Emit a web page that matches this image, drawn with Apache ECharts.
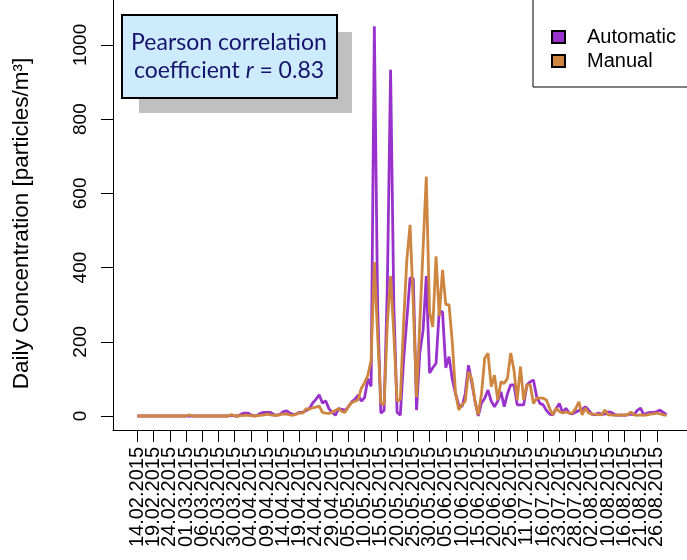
<!DOCTYPE html>
<html>
<head>
<meta charset="utf-8">
<title>Daily concentration</title>
<script src="https://cdn.jsdelivr.net/npm/echarts@6/dist/echarts.min.js"></script>
<style>
  html, body { margin: 0; padding: 0; background: #fff; }
  #chart { width: 687px; height: 560px; }
</style>
</head>
<body>
<div id="chart"></div>
<script>
// tick labels, one every 5 samples
const tickLabels = [
  '14.02.2015', '19.02.2015', '24.02.2015', '01.03.2015', '06.03.2015',
  '25.03.2015', '30.03.2015', '04.04.2015', '09.04.2015', '14.04.2015',
  '19.04.2015', '24.04.2015', '29.04.2015', '05.05.2015', '10.05.2015',
  '15.05.2015', '20.05.2015', '25.05.2015', '30.05.2015', '05.06.2015',
  '10.06.2015', '15.06.2015', '20.06.2015', '25.06.2015', '11.07.2015',
  '16.07.2015', '23.07.2015', '28.07.2015', '02.08.2015', '10.08.2015',
  '16.08.2015', '21.08.2015', '26.08.2015'
];

// daily concentration per sample (particles/m3)
const automatic = [
  0, 0, 0, 0, 0, 0, 0, 0, 0, 0,
  0, 0, 0, 0, 0, 0, 0, 0, 0, 0,
  0, 0, 0, 0, 0, 0, 0, 0, 0, 2,
  0, 0, 5, 8, 8, 3, 0, 2, 8, 10,
  10, 10, 4, 2, 5, 12, 14, 8, 4, 6,
  10, 10, 15, 20, 35, 45, 57, 35, 41, 20,
  10, 2, 20, 18, 15, 25, 38, 45, 56, 40,
  50, 100, 80, 1050, 300, 8, 15, 350, 933, 300,
  10, 2, 150, 260, 372, 370, 16, 170, 230, 377,
  116, 130, 142, 285, 280, 130, 160, 100, 60, 30,
  25, 60, 137, 90, 40, 0, 35, 48, 70, 40,
  25, 40, 65, 25, 60, 84, 84, 30, 30, 30,
  84, 92, 97, 52, 34, 30, 15, 5, 3, 20,
  34, 8, 21, 8, 6, 10, 15, 18, 25, 16,
  5, 3, 8, 5, 5, 11, 10, 4, 2, 3,
  2, 3, 5, 4, 15, 21, 3, 8, 10, 9,
  12, 16, 10, 3
];

const manual = [
  0, 0, 0, 0, 0, 0, 0, 0, 0, 0,
  0, 0, 0, 0, 0, 0, 3, 0, 0, 0,
  0, 0, 0, 0, 0, 0, 0, 0, 0, 4,
  0, 0, 1, 2, 2, 1, 0, 1, 2, 3,
  5, 3, 2, 2, 4, 6, 5, 3, 2, 5,
  8, 8, 20, 18, 22, 24, 27, 10, 8, 7,
  10, 15, 20, 12, 10, 25, 36, 40, 44, 75,
  90, 110, 150, 415, 220, 35, 30, 250, 377, 220,
  40, 45, 250, 420, 515, 300, 51, 250, 450, 645,
  280, 240, 430, 270, 394, 300, 300, 200, 62, 16,
  30, 40, 119, 100, 40, 3, 60, 156, 169, 79,
  110, 43, 92, 88, 102, 170, 124, 43, 133, 43,
  84, 84, 34, 48, 48, 48, 43, 20, 3, 21,
  12, 8, 11, 8, 8, 20, 38, 3, 21, 8,
  5, 5, 4, 3, 16, 3, 3, 2, 3, 2,
  4, 3, 11, 3, 2, 3, 2, 3, 5, 6,
  8, 6, 3, 2
];

const yTicks = [0, 200, 400, 600, 800, 1000];

const chart = echarts.init(document.getElementById('chart'));

// sample index of each labelled tick; labels are split over two axes
// (even / odd ticks) so that ECharts does not drop neighbouring labels
const xTicks = tickLabels.map((_, i) => i * 5);
const evenTicks = xTicks.filter((_, i) => i % 2 === 0);
const oddTicks = xTicks.filter((_, i) => i % 2 === 1);
const axisFont = 'Liberation Sans, Arial, sans-serif';

const xLabel = values => ({
  customValues: values,
  showMinLabel: true,
  showMaxLabel: true,
  rotate: 90,
  margin: 17,
  fontSize: 20,
  fontFamily: axisFont,
  color: '#000',
  formatter: v => tickLabels[Math.round(v / 5)]
});

const option = {
  animation: false,
  grid: { left: 113, right: 0, top: 0, bottom: 130 },
  xAxis: [
    {
      type: 'value',
      position: 'bottom',
      min: -7.5,
      max: 169.3,
      axisLine: { onZero: false, lineStyle: { color: '#000', width: 1 } },
      axisTick: { customValues: xTicks, length: 12, lineStyle: { color: '#000' } },
      axisLabel: xLabel(evenTicks),
      splitLine: { show: false }
    },
    {
      type: 'value',
      position: 'bottom',
      min: -7.5,
      max: 169.3,
      axisLine: { show: false, onZero: false },
      axisTick: { show: false },
      axisLabel: xLabel(oddTicks),
      splitLine: { show: false }
    }
  ],
  yAxis: {
    type: 'value',
    min: -37.7,
    max: 1121,
    name: 'Daily Concentration [particles/m³]',
    nameLocation: 'middle',
    nameRotate: 90,
    nameGap: 80,
    nameTextStyle: { fontSize: 22.5, fontFamily: axisFont, color: '#000', padding: [0, 17, 0, 0] },
    axisLine: { show: true, onZero: false, lineStyle: { color: '#000', width: 1 } },
    axisTick: { show: true, customValues: yTicks, length: 12, lineStyle: { color: '#000' } },
    axisLabel: {
      customValues: yTicks,
      showMinLabel: true,
      showMaxLabel: true,
      rotate: 90,
      margin: 23,
      fontSize: 19,
      fontFamily: axisFont,
      color: '#000',
      formatter: v => String(v)
    },
    splitLine: { show: false }
  },
  legend: {
    orient: 'vertical',
    left: 551,
    top: 27,
    padding: 0,
    itemWidth: 13,
    itemHeight: 12,
    itemGap: 4,
    icon: 'rect',
    textStyle: { fontSize: 20, fontFamily: axisFont, color: '#000', padding: [0, 0, 0, 17] },
    data: ['Automatic', 'Manual']
  },
  series: [
    {
      name: 'Automatic',
      type: 'line',
      xAxisIndex: 0,
      showSymbol: false,
      data: automatic.map((v, i) => [i, v]),
      lineStyle: { color: '#9932CC', width: 2.8 },
      itemStyle: { color: '#9932CC', borderColor: '#000', borderWidth: 1 }
    },
    {
      name: 'Manual',
      type: 'line',
      xAxisIndex: 0,
      showSymbol: false,
      data: manual.map((v, i) => [i, v]),
      lineStyle: { color: '#CD853F', width: 2.8 },
      itemStyle: { color: '#CD853F', borderColor: '#000', borderWidth: 1 }
    }
  ],
  graphic: [
    // legend frame
    {
      type: 'rect',
      shape: { x: 533, y: -5, width: 200, height: 92 },
      style: { fill: 'none', stroke: '#000', lineWidth: 1 },
      z: 1
    },
    // correlation note with drop shadow
    {
      type: 'rect',
      shape: { x: 139, y: 32, width: 213, height: 81 },
      style: { fill: '#C0C0C0' },
      z: 10
    },
    {
      type: 'rect',
      shape: { x: 122, y: 15, width: 215, height: 83 },
      style: { fill: '#CCEBFC', stroke: '#000', lineWidth: 2 },
      z: 11
    },
    {
      type: 'text',
      x: 229,
      y: 57,
      z: 12,
      style: {
        text: 'Pearson correlation\ncoefficient {i|r} = 0.83',
        fill: '#17126B',
        font: '23px Lato, "Open Sans", sans-serif',
        align: 'center',
        verticalAlign: 'middle',
        lineHeight: 28,
        rich: {
          i: { fontStyle: 'italic', fontSize: 23, fontFamily: 'Lato', fill: '#17126B' }
        }
      }
    }
  ]
};

chart.setOption(option);
</script>
</body>
</html>
